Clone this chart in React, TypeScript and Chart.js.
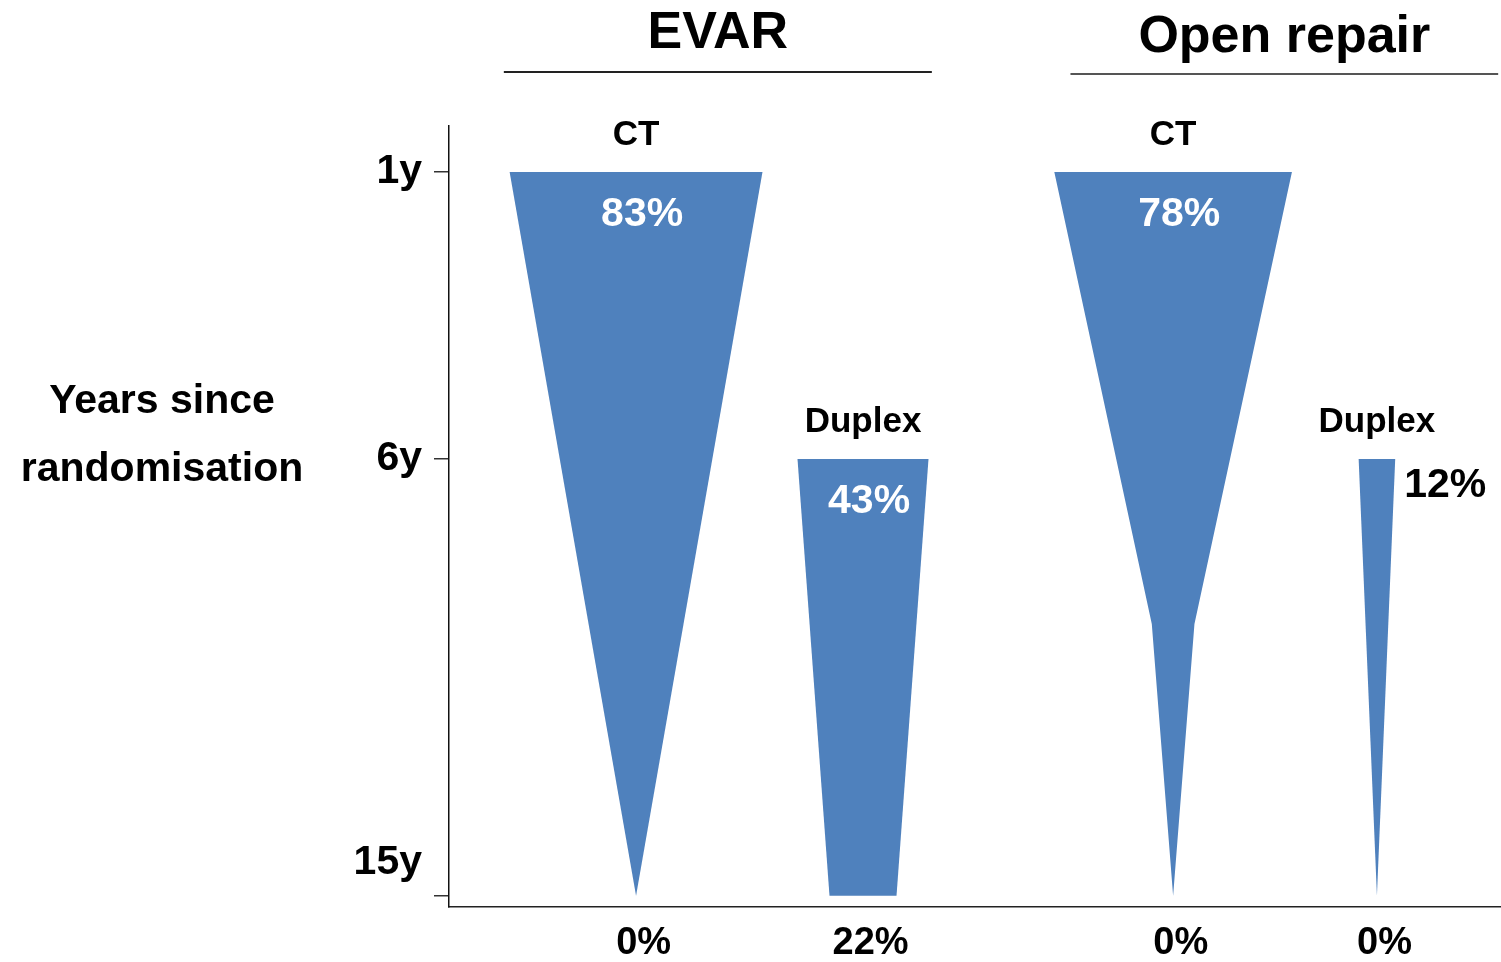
import { useEffect, useRef } from 'react';
import { Chart, LinearScale, registerables } from 'chart.js';

Chart.register(...registerables);

// ---------------- data ----------------
const groups = ['EVAR', 'Open repair'];
const modalities = ['CT', 'Duplex'];
const tickYears = [1, 6, 15];

// years since randomisation at each knot of a shape, and % of patients imaged
const evarCtYears = [1, 15];
const evarCtPct = [83, 0];
const evarDuplexYears = [6, 15];
const evarDuplexPct = [43, 22];
const openCtYears = [1, 9.4, 15];
const openCtPct = [78, 14, 0];
const openDuplexYears = [6, 15];
const openDuplexPct = [12, 0];

const series = [
  { group: 0, modality: 0, years: evarCtYears, pct: evarCtPct },
  { group: 0, modality: 1, years: evarDuplexYears, pct: evarDuplexPct },
  { group: 1, modality: 0, years: openCtYears, pct: openCtPct },
  { group: 1, modality: 1, years: openDuplexYears, pct: openDuplexPct },
];

// ---------------- layout ----------------
// x axis runs in percentage points, so a shape's width equals its value
const X_MAX = 345;
const columnCentre = [61.4, 135.9, 237.7, 304.6];
const headerSpan = [
  [18, 158.5],
  [204, 344.4],
];
const headerBaseline = [48, 52];
const headerRuleY = [72, 74];
const headerRuleColour = ['#222', '#555'];

// the year axis is drawn in two linear segments split at Y_BREAK
const Y_MIN = 0.2;
const Y_MAX = 15.23;
const Y_BREAK = 6;
const Y_BREAK_AT = 0.4264;

const BLUE = '#4F81BD';
const FONT = '"Liberation Sans", Arial, Helvetica, sans-serif';

class SegmentedScale extends LinearScale {
  static id = 'segmented';

  fractionOf(v: number): number {
    const opts: any = this.options;
    const b = opts.breakValue ?? Y_BREAK;
    const at = opts.breakAt ?? Y_BREAK_AT;
    const min = this.min;
    const max = this.max;
    return v <= b ? ((v - min) / (b - min)) * at : at + ((v - b) / (max - b)) * (1 - at);
  }

  getPixelForValue(v: any): number {
    if (v === null || v === undefined || isNaN(v)) return NaN;
    return this.top + this.fractionOf(+v) * (this.bottom - this.top);
  }

  getValueForPixel(p: number): number {
    const opts: any = this.options;
    const b = opts.breakValue ?? Y_BREAK;
    const at = opts.breakAt ?? Y_BREAK_AT;
    const f = (p - this.top) / (this.bottom - this.top);
    if (f <= at) return this.min + (f / at) * (b - this.min);
    return b + ((f - at) / (1 - at)) * (this.max - b);
  }
}
Chart.register(SegmentedScale);

const annotate = {
  id: 'annotate',
  afterDraw(chart: any) {
    const { ctx, chartArea } = chart;
    const x = chart.scales.x;
    const y = chart.scales.y;
    ctx.save();

    // group headings with rules underneath
    groups.forEach((g, gi) => {
      const x0 = x.getPixelForValue(headerSpan[gi][0]);
      const x1 = x.getPixelForValue(headerSpan[gi][1]);
      ctx.fillStyle = '#000';
      ctx.font = `bold 52px ${FONT}`;
      ctx.textAlign = 'center';
      ctx.textBaseline = 'alphabetic';
      ctx.fillText(g, (x0 + x1) / 2, headerBaseline[gi]);
      ctx.strokeStyle = headerRuleColour[gi];
      ctx.lineWidth = 2;
      ctx.beginPath();
      ctx.moveTo(x0, headerRuleY[gi]);
      ctx.lineTo(x1, headerRuleY[gi]);
      ctx.stroke();
    });

    // year axis title, written horizontally
    ctx.fillStyle = '#000';
    ctx.font = `bold 41px ${FONT}`;
    ctx.textAlign = 'center';
    ctx.fillText('Years since', 162, 413);
    ctx.fillText('randomisation', 162, 481);

    series.forEach((s, i) => {
      const c = columnCentre[i];
      const first = s.pct[0];
      const last = s.pct[s.pct.length - 1];
      const topY = y.getPixelForValue(s.years[0]);
      const cx = x.getPixelForValue(c);
      const leftX = x.getPixelForValue(c - first / 2);
      const rightX = x.getPixelForValue(c + first / 2);

      // modality label above the shape
      ctx.fillStyle = '#000';
      ctx.font = `bold 35px ${FONT}`;
      ctx.textAlign = 'center';
      ctx.fillText(modalities[s.modality], cx, topY - 27);

      // starting value: inside if it fits, otherwise to the right
      const topText = `${first}%`;
      ctx.font = `bold 41px ${FONT}`;
      const w = ctx.measureText(topText).width;
      if (w + 16 <= rightX - leftX) {
        ctx.fillStyle = '#fff';
        ctx.textAlign = 'center';
        ctx.fillText(topText, x.getPixelForValue(c + 2), topY + 54);
      } else {
        ctx.fillStyle = '#000';
        ctx.textAlign = 'left';
        ctx.fillText(topText, rightX + 9, topY + 38);
      }

      // final value below the axis
      ctx.fillStyle = '#000';
      ctx.font = `bold 38px ${FONT}`;
      ctx.textAlign = 'center';
      ctx.fillText(`${last}%`, x.getPixelForValue(c + 2.5), chartArea.bottom + 47);
    });

    ctx.restore();
  },
};

export default function App() {
  const canvasRef = useRef<HTMLCanvasElement | null>(null);

  useEffect(() => {
    if (!canvasRef.current) return;

    const datasets = series.map((s, i) => {
      const c = columnCentre[i];
      const right = s.years.map((yr, k) => ({ x: c + s.pct[k] / 2, y: yr }));
      const left = s.years.map((yr, k) => ({ x: c - s.pct[k] / 2, y: yr })).reverse();
      return {
        label: `${groups[s.group]} ${modalities[s.modality]}`,
        data: [...right, ...left],
        fill: 'shape',
        backgroundColor: BLUE,
        borderColor: BLUE,
        borderWidth: 0,
        pointRadius: 0,
        pointHoverRadius: 0,
        tension: 0,
      };
    });

    const chart = new Chart(canvasRef.current, {
      type: 'line',
      data: { datasets } as any,
      options: {
        animation: false,
        responsive: false,
        devicePixelRatio: 1,
        events: [],
        layout: { padding: { top: 126, right: 1, left: 0, bottom: 0 } },
        plugins: {
          legend: { display: false },
          tooltip: { enabled: false },
          title: { display: false },
        },
        scales: {
          x: {
            type: 'linear',
            min: 0,
            max: X_MAX,
            bounds: 'data',
            ticks: { display: false },
            grid: { display: false },
            border: { display: true, color: '#222', width: 1.5 },
            afterFit: (s: any) => {
              s.height = 55;
            },
          },
          y: {
            type: 'segmented',
            position: 'left',
            min: Y_MIN,
            max: Y_MAX,
            bounds: 'data',
            breakValue: Y_BREAK,
            breakAt: Y_BREAK_AT,
            afterBuildTicks: (s: any) => {
              s.ticks = tickYears.map((v) => ({ value: v }));
            },
            ticks: {
              callback: (v: any) =>
                v === tickYears[tickYears.length - 1] ? [`${v}y`, ''] : `${v}y`,
              color: '#000',
              padding: 12,
              font: { family: FONT, size: 41, weight: 'bold', lineHeight: 1.6 },
            },
            grid: {
              drawOnChartArea: false,
              drawTicks: true,
              tickLength: 15,
              color: '#333',
              lineWidth: 1.5,
            },
            border: { display: true, color: '#111', width: 1.5 },
            afterFit: (s: any) => {
              s.width = 449;
            },
          } as any,
        },
      },
      plugins: [annotate],
    });

    return () => chart.destroy();
  }, []);

  return (
    <div
      style={{
        position: 'fixed',
        left: 0,
        top: 0,
        width: 1501,
        height: 962,
        background: '#fff',
      }}
    >
      <canvas ref={canvasRef} width={1501} height={962} style={{ display: 'block' }} />
    </div>
  );
}
